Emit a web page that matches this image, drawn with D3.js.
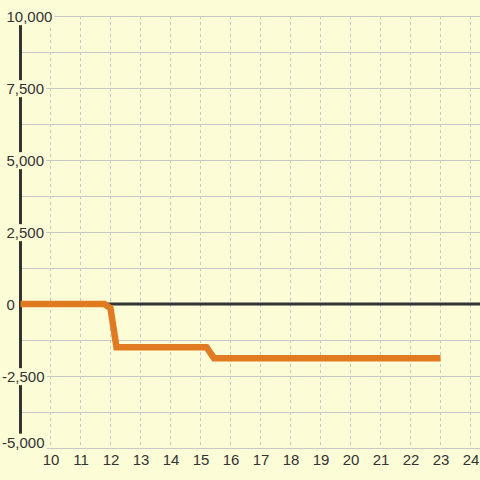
<!doctype html>
<html>
<head>
<meta charset="UTF-8" />
<script src="https://d3js.org/d3.v7.min.js"></script>
<style>
  html, body { margin: 0; padding: 0; background: #fcfcd7; }
  svg { display: block; }
  text { font-family: "Liberation Sans", Arial, sans-serif; font-size: 15px; fill: #333; }
</style>
</head>
<body>
<svg id="chart" width="480" height="480"></svg>
<script>
  "use strict";

  // series: x position and value
  const xValues = [9, 11.8, 12, 12.2, 15.2, 15.45, 23];
  const yValues = [0, 0, -150, -1500, -1500, -1880, -1880];

  // tick labels
  const xTicks = [10, 11, 12, 13, 14, 15, 16, 17, 18, 19, 20, 21, 22, 23, 24];
  const yTicks = [-5000, -2500, 0, 2500, 5000, 7500, 10000];
  const yGrid = [-5000, -3750, -2500, -1250, 0, 1250, 2500, 3750, 5000, 6250, 7500, 8750, 10000];

  const bg = "#fcfcd7";
  const svg = d3.select("#chart");
  const width = 480;

  const x = d3.scaleLinear().domain([9, 24]).range([20.5, 470.5]);
  const y = d3.scaleLinear().domain([-5000, 10000]).range([448, 16]);

  svg.append("rect").attr("width", 480).attr("height", 480).attr("fill", bg);

  // horizontal grid
  svg.append("g").selectAll("line")
    .data(yGrid)
    .enter().append("line")
    .attr("x1", x(9)).attr("x2", width)
    .attr("y1", d => Math.round(y(d)) + 0.5).attr("y2", d => Math.round(y(d)) + 0.5)
    .attr("stroke", "#c8c8c8").attr("stroke-width", 1);

  // vertical dotted grid
  svg.append("g").selectAll("line")
    .data(xTicks)
    .enter().append("line")
    .attr("x1", d => x(d)).attr("x2", d => x(d))
    .attr("y1", y(10000)).attr("y2", y(-5000))
    .attr("stroke", "#c8c8c8").attr("stroke-width", 1)
    .attr("stroke-dasharray", "3,3");

  // axis and zero line
  svg.append("line")
    .attr("x1", x(9)).attr("x2", x(9))
    .attr("y1", y(10000)).attr("y2", y(-5000))
    .attr("stroke", "#333").attr("stroke-width", 3);
  svg.append("line")
    .attr("x1", x(9)).attr("x2", width)
    .attr("y1", y(0)).attr("y2", y(0))
    .attr("stroke", "#333").attr("stroke-width", 3);

  // y labels with background boxes
  const fmt = d3.format(",");
  const yLab = svg.append("g").selectAll("g")
    .data(yTicks)
    .enter().append("g");
  yLab.append("text")
    .attr("x", d => d < 0 ? 2 : 6.5)
    .attr("y", d => d === -5000 ? y(d) - 6.5 : y(d))
    .attr("dy", "0.41em")
    .text(d => fmt(d).replace("−", "-"));
  yLab.each(function () {
    const g = d3.select(this);
    const b = g.select("text").node().getBBox();
    g.insert("rect", "text")
      .attr("x", b.x - 2).attr("y", b.y)
      .attr("width", b.width + 4).attr("height", b.height)
      .attr("fill", bg);
  });

  // x labels
  svg.append("g").selectAll("text")
    .data(xTicks)
    .enter().append("text")
    .attr("x", d => x(d) + 0.5)
    .attr("y", 459)
    .attr("dy", "0.41em")
    .attr("text-anchor", "middle")
    .text(d => d);

  // series line
  const pts = xValues.map((v, i) => [v, yValues[i]]);
  svg.append("path")
    .datum(pts)
    .attr("fill", "none")
    .attr("stroke", "#e07b22")
    .attr("stroke-width", 6.5)
    .attr("d", d3.line().x(d => x(d[0])).y(d => y(d[1])));
</script>
</body>
</html>
